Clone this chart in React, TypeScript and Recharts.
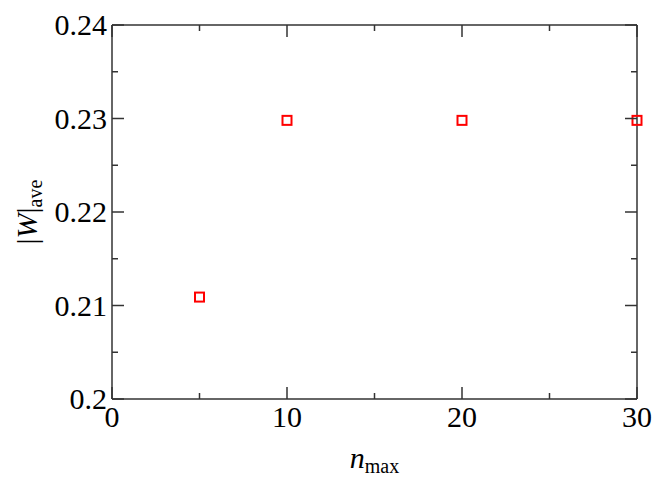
import React from "react";
import { ScatterChart, Scatter, XAxis, YAxis } from "recharts";

const nMax = [5, 10, 20, 30];
const wAve = [0.2109, 0.2298, 0.2298, 0.2298];
const xTicks = [0, 5, 10, 15, 20, 25, 30];
const yTicks = [0.2, 0.205, 0.21, 0.215, 0.22, 0.225, 0.23, 0.235, 0.24];
const xTickLabels: Record<number, string> = { 0: "0", 10: "10", 20: "20", 30: "30" };
const yTickLabels: Record<string, string> = {
  "0.2": "0.2",
  "0.21": "0.21",
  "0.22": "0.22",
  "0.23": "0.23",
  "0.24": "0.24",
};

const data = nMax.map((n, i) => ({ n, w: wAve[i] }));

const FONT = "'Liberation Serif', 'Times New Roman', serif";
const AXIS = "#333";
const MAJOR = 12;
const MINOR = 6;
const TS = 1; // tickSize used by axes (offsets tick coordinate by this amount)

const isMajorX = (v: number) => Math.round(v) % 10 === 0;
const isMajorY = (v: number) => Math.round(v * 1000) % 10 === 0;

const BottomTick = (p: any) => {
  const v = p.payload.value;
  const major = isMajorX(v);
  const len = major ? MAJOR : MINOR;
  const y0 = p.y - TS;
  return (
    <g>
      <line x1={p.x} x2={p.x} y1={y0} y2={y0 - len} stroke={AXIS} strokeWidth={1.5} />
      {major && (
        <text x={p.x} y={y0 + 28} textAnchor="middle" fontFamily={FONT} fontSize={30} fill="#000">
          {xTickLabels[v]}
        </text>
      )}
    </g>
  );
};

const TopTick = (p: any) => {
  const v = p.payload.value;
  const len = isMajorX(v) ? MAJOR : MINOR;
  const y0 = p.y + TS;
  return <line x1={p.x} x2={p.x} y1={y0} y2={y0 + len} stroke={AXIS} strokeWidth={1.5} />;
};

const LeftTick = (p: any) => {
  const v = p.payload.value;
  const major = isMajorY(v);
  const len = major ? MAJOR : MINOR;
  const key = String(Math.round(v * 100) / 100);
  const x0 = p.x + TS;
  return (
    <g>
      <line x1={x0} x2={x0 + len} y1={p.y} y2={p.y} stroke={AXIS} strokeWidth={1.5} />
      {major && (
        <text x={x0 - 5} y={p.y + 10} textAnchor="end" fontFamily={FONT} fontSize={30} fill="#000">
          {yTickLabels[key]}
        </text>
      )}
    </g>
  );
};

const RightTick = (p: any) => {
  const v = p.payload.value;
  const len = isMajorY(v) ? MAJOR : MINOR;
  const x0 = p.x - TS;
  return <line x1={x0} x2={x0 - len} y1={p.y} y2={p.y} stroke={AXIS} strokeWidth={1.5} />;
};

const XLabel = (props: any) => {
  const vb = props.viewBox || {};
  const cx = vb.x + vb.width / 2;
  return (
    <text x={cx} y={468} textAnchor="middle" fontFamily={FONT} fontSize={30} fill="#000">
      <tspan fontStyle="italic">n</tspan>
      <tspan fontSize={20} dy={5}>max</tspan>
    </text>
  );
};

const YLabel = (props: any) => {
  const vb = props.viewBox || {};
  const cy = vb.y + vb.height / 2;
  const x = 37;
  return (
    <text
      x={x}
      y={cy}
      transform={`rotate(-90, ${x}, ${cy})`}
      textAnchor="middle"
      fontFamily={FONT}
      fontSize={30}
      fill="#000"
    >
      <tspan>|</tspan>
      <tspan fontStyle="italic">W</tspan>
      <tspan>|</tspan>
      <tspan fontSize={20} dy={5}>ave</tspan>
    </text>
  );
};

const SquareMarker = (p: any) => {
  const s = 9;
  return (
    <rect
      x={p.cx - s / 2}
      y={p.cy - s / 2}
      width={s}
      height={s}
      fill="none"
      stroke="#ff0000"
      strokeWidth={2}
    />
  );
};

const Hidden = () => <g />;

export default function App() {
  return (
    <div style={{ position: "absolute", left: 0, top: 0, background: "#fff" }}>
      <ScatterChart
        width={657}
        height={479}
        margin={{ top: 24, right: 19, bottom: 0, left: 0 }}
      >
        <XAxis
          xAxisId="bottom"
          dataKey="n"
          type="number"
          domain={[0, 30]}
          ticks={xTicks}
          interval={0}
          orientation="bottom"
          height={80}
          tickSize={TS}
          tickMargin={0}
          tick={BottomTick}
          axisLine={{ stroke: AXIS, strokeWidth: 1.5 }}
          tickLine={false}
          label={<XLabel />}
        />
        <XAxis
          xAxisId="top"
          dataKey="n"
          type="number"
          domain={[0, 30]}
          ticks={xTicks}
          interval={0}
          orientation="top"
          height={1}
          tickSize={TS}
          tickMargin={0}
          tick={TopTick}
          axisLine={{ stroke: AXIS, strokeWidth: 1.5 }}
          tickLine={false}
        />
        <YAxis
          yAxisId="left"
          dataKey="w"
          type="number"
          domain={[0.2, 0.24]}
          ticks={yTicks}
          interval={0}
          orientation="left"
          width={112}
          tickSize={TS}
          tickMargin={0}
          tick={LeftTick}
          axisLine={{ stroke: AXIS, strokeWidth: 1.5 }}
          tickLine={false}
          label={<YLabel />}
        />
        <YAxis
          yAxisId="right"
          dataKey="w"
          type="number"
          domain={[0.2, 0.24]}
          ticks={yTicks}
          interval={0}
          orientation="right"
          width={1}
          tickSize={TS}
          tickMargin={0}
          tick={RightTick}
          axisLine={{ stroke: AXIS, strokeWidth: 1.5 }}
          tickLine={false}
        />
        <Scatter
          data={data}
          xAxisId="top"
          yAxisId="right"
          shape={Hidden}
          isAnimationActive={false}
        />
        <Scatter
          data={data}
          xAxisId="bottom"
          yAxisId="left"
          shape={SquareMarker}
          isAnimationActive={false}
        />
      </ScatterChart>
    </div>
  );
}
